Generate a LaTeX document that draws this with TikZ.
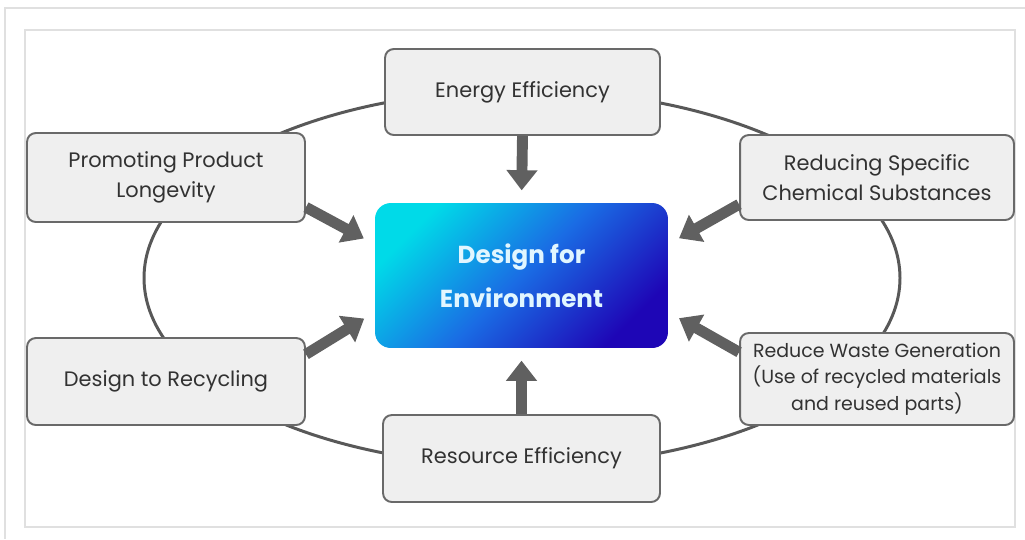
\documentclass[tikz,border=0pt]{standalone}
\usepackage{fontspec}
\setmainfont{Poppins}
\usetikzlibrary{arrows.meta}

\definecolor{boxfill}{RGB}{239,239,239}
\definecolor{boxline}{RGB}{105,105,105}
\definecolor{ringline}{RGB}{88,88,88}
\definecolor{arrowgray}{RGB}{96,96,96}
\definecolor{labeltext}{RGB}{50,50,50}
\definecolor{frameline}{RGB}{224,224,224}
\definecolor{dfecyan}{RGB}{0,218,232}
\definecolor{dfeblue}{RGB}{26,108,228}
\definecolor{dfenavy}{RGB}{30,6,182}
\definecolor{dfetext}{RGB}{225,246,255}

\tikzset{
  topic/.style={draw=boxline, fill=boxfill, line width=1.1pt, rounded corners=5pt,
    text=labeltext, align=center, font=\fontsize{11.9}{17}\selectfont, inner sep=0pt},
  feed/.style={draw=arrowgray, line width=6.2pt,
    -{Triangle[width=17pt,length=11.5pt]}, shorten >=7pt}
}

\begin{document}
\begin{tikzpicture}[x=0.02cm, y=-0.02cm]
			%%%%% START %%%%%
			\useasboundingbox (0, 0) rectangle (1025, 539);
			
			% page frames
			\draw[frameline, line width=0.6pt] (5, 539) -- (5, 8) -- (1025, 8);
			\draw[frameline, line width=0.6pt] (25, 30) rectangle (1015, 527);
			
			% ring linking the six topics
			\draw[ringline, line width=1.7pt] (522, 278) ellipse (378 and 188);
			
			\node[topic, minimum width=5.5cm, minimum height=1.72cm] (energy) at (522.5, 92) {Energy Efficiency};
			\node[topic, minimum width=5.56cm, minimum height=1.78cm] (longevity) at (166, 177.5) {Promoting Product\\Longevity};
			\node[topic, minimum width=5.48cm, minimum height=1.7cm] (chemical) at (877, 177.5) {Reducing Specific\\Chemical Substances};
			\node[topic, minimum width=5.56cm, minimum height=1.74cm] (recycling) at (166, 381.5) {Design to Recycling};
			\node[topic, minimum width=5.48cm, minimum height=1.84cm, font=\fontsize{10.8}{15}\selectfont] (waste) at (877, 379) {Reduce Waste Generation\\(Use of recycled materials\\and reused parts)};
			\node[topic, minimum width=5.54cm, minimum height=1.74cm] (resource) at (521.5, 458.5) {Resource Efficiency};
			
			% centre box
			\node[rounded corners=9pt, top color=dfecyan, bottom color=dfenavy, middle color=dfeblue, shading angle=45,
				minimum width=5.86cm, minimum height=2.9cm, text=dfetext, align=center,
				font=\fontsize{14}{25}\selectfont\bfseries] (dfe) at (521.5, 275.5) {Design for\\Environment};
			
			\draw[feed] (energy.south) -- (dfe.north);
			\draw[feed] (resource.north) -- (dfe.south);
			\draw[feed] (longevity.-12) -- (dfe.168);
			\draw[feed] (recycling.11) -- (dfe.-166);
			\draw[feed] (chemical.-169) -- (dfe.12);
			\draw[feed] (waste.169) -- (dfe.-14);
			%%%%% END %%%%%
\end{tikzpicture}
\end{document}
